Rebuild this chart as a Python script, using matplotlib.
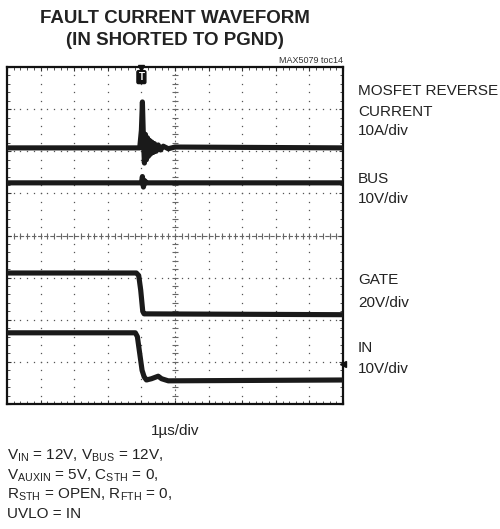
import numpy as np
import matplotlib
matplotlib.use("Agg")
import matplotlib.pyplot as plt

plt.rcParams['font.family'] = ['Liberation Sans', 'DejaVu Sans']
plt.rcParams['mathtext.fontset'] = 'custom'
plt.rcParams['mathtext.rm'] = 'Liberation Sans'
plt.rcParams['mathtext.default'] = 'regular'

# ---- data (time in divisions, level in divisions from bottom of screen) ----
mosfet_t = [0.0, 3.95, 4.00, 4.03, 4.06, 4.09, 4.12, 4.15, 4.18, 4.21, 4.24, 4.27,
            4.31, 4.35, 4.39, 4.44, 4.50, 4.57, 4.65, 4.80, 5.00, 10.0]
mosfet_v = [6.08, 6.08, 6.50, 7.17, 6.30, 5.72, 6.40, 5.80, 6.32, 5.88, 6.26, 5.93,
            6.22, 5.97, 6.18, 6.00, 6.15, 6.03, 6.12, 6.06, 6.10, 6.08]

bus_t = [0.0, 4.0, 4.03, 4.06, 4.10, 4.15, 10.0]
bus_v = [5.25, 5.25, 5.40, 5.15, 5.30, 5.25, 5.25]

gate_t = [0.0, 3.85, 3.92, 3.98, 4.04, 4.08, 10.0]
gate_v = [3.11, 3.11, 3.05, 2.70, 2.20, 2.14, 2.12]

in_t = [0.0, 3.82, 3.88, 3.95, 4.02, 4.08, 4.15, 4.30, 4.50, 4.60, 4.80, 10.0]
in_v = [1.69, 1.69, 1.60, 1.20, 0.80, 0.65, 0.57, 0.60, 0.66, 0.60, 0.55, 0.57]

trigger_t = 4.0
in_ground = 0.95

channel_labels = [
    ("MOSFET REVERSE", 95), ("CURRENT", 116), ("10A/div", 135),
    ("BUS", 183), ("10V/div", 203),
    ("GATE", 284), ("20V/div", 307),
    ("IN", 352), ("10V/div", 373),
]
timebase = "1µs/div"
conditions = [
    r"V$_{IN}$ = 12V, V$_{BUS}$ = 12V,",
    r"V$_{AUXIN}$ = 5V, C$_{STH}$ = 0,",
    r"R$_{STH}$ = OPEN, R$_{FTH}$ = 0,",
    r"UVLO = IN",
]

W, H = 500, 529
fig = plt.figure(figsize=(W / 100, H / 100), dpi=100)
fig.patch.set_facecolor('white')

def fx(px):
    return px / W

def fy(py):
    return 1 - py / H

left, right, top, bottom = 7, 343, 67, 404
ax = fig.add_axes([fx(left), fy(bottom), fx(right - left), (bottom - top) / H])
ax.set_xlim(0, 10)
ax.set_ylim(0, 8)

# dotted graticule
grid_c = '#555555'
fine = np.arange(0, 10.001, 0.2)
fine_y = np.arange(0, 8.001, 0.2)
for gx in range(1, 10):
    if gx == 5:
        continue
    ax.plot(np.full_like(fine_y, gx), fine_y, ls='none', marker='s', ms=0.9,
            color=grid_c, mew=0, zorder=1)
for gy in range(1, 8):
    if gy == 4:
        continue
    ax.plot(fine, np.full_like(fine, gy), ls='none', marker='s', ms=0.9,
            color=grid_c, mew=0, zorder=1)

# center crosshair with minor ticks
ax.plot([0, 10], [4, 4], color='#666666', lw=0.8, ls=(0, (4, 1.5)), zorder=1)
ax.plot([5, 5], [0, 8], color='#666666', lw=0.8, ls=(0, (1.5, 2.5)), zorder=1)
ax.plot(fine, np.full_like(fine, 4), ls='none', marker='|', ms=4, mew=0.8,
        color='#666666', zorder=1)
ax.plot(np.full_like(fine_y, 5), fine_y, ls='none', marker='_', ms=4, mew=0.8,
        color='#666666', zorder=1)

# traces
tc = '#1a1a1a'
for t, v in [(mosfet_t, mosfet_v), (bus_t, bus_v), (gate_t, gate_v), (in_t, in_v)]:
    ax.plot(t, v, color=tc, lw=3.7, solid_joinstyle='round', zorder=3)

# trigger marker
ax.text(trigger_t, 7.76, "T", color='white', fontsize=7, fontweight='bold',
        ha='center', va='center', zorder=5,
        bbox=dict(boxstyle='round,pad=0.15', fc='#111111', ec='#111111'))
ax.plot([trigger_t], [7.97], marker='v', ms=4, color='#111111', zorder=5, clip_on=False)
ax.plot([10], [in_ground], marker='<', ms=5, color='#111111', zorder=5, clip_on=False)

# border ticks
ax.set_xticks(np.arange(0, 10.01, 1))
ax.set_yticks(np.arange(0, 8.01, 1))
ax.set_xticks(fine, minor=True)
ax.set_yticks(fine_y, minor=True)
ax.tick_params(which='both', direction='in', top=True, right=True,
               labelbottom=False, labelleft=False, color='#333333')
ax.tick_params(which='major', length=3, width=0.8)
ax.tick_params(which='minor', length=2, width=0.6)
for s in ax.spines.values():
    s.set_linewidth(1.6)
    s.set_color('#111111')

# texts
fig.text(fx(175), fy(23), "FAULT CURRENT WAVEFORM", ha='center', va='baseline',
         fontsize=13.5, fontweight='bold', color='#222222')
fig.text(fx(175), fy(45), "(IN SHORTED TO PGND)", ha='center', va='baseline',
         fontsize=13.5, fontweight='bold', color='#222222')
fig.text(fx(343), fy(63), "MAX5079 toc14", ha='right', va='baseline', fontsize=6.5,
         color='#333333')

for txt, py in channel_labels:
    fig.text(fx(358), fy(py), txt, ha='left', va='baseline', fontsize=11, color='#222222')

fig.text(fx(175), fy(435), timebase, ha='center', va='baseline', fontsize=11, color='#222222')
for i, line in enumerate(conditions):
    fig.text(fx(7), fy(460 + i * 19.3), line, ha='left', va='baseline', fontsize=11,
             color='#222222')

fig.savefig("out.png", dpi=100, facecolor='white')
